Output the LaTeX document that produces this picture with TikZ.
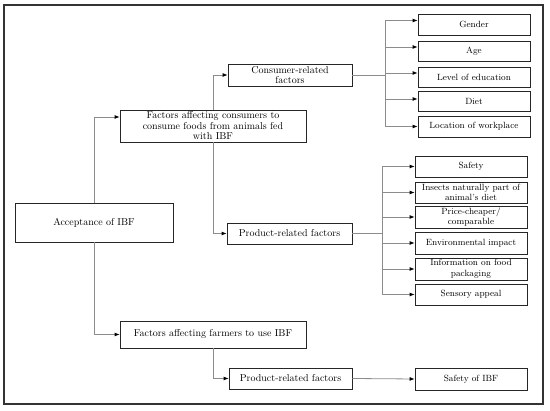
\documentclass[tikz,border=0pt]{standalone}
\usetikzlibrary{arrows.meta}
\begin{document}
\begin{tikzpicture}[x=1pt,y=-1pt,
  box/.style={draw=black!85, line width=0.8pt, inner sep=1pt, align=center,
    font=\fontsize{9}{10.5}\selectfont, fill=white},
  mainbox/.style={box, font=\fontsize{10}{10.5}\selectfont},
  conn/.style={draw=black!45, line width=0.8pt},
  arr/.style={conn, -{Latex[length=5pt,width=4pt,color=black]}}]
\useasboundingbox (0,0) rectangle (550,411);
\draw[black!80, line width=1.5pt] (4,5) rectangle (543,404);
% main nodes
\node[mainbox, minimum width=158pt, minimum height=39pt] (acc) at (94,222.5) {Acceptance of IBF};
\node[mainbox, minimum width=186pt, minimum height=32pt] (fc) at (213,126) {Factors affecting consumers to\\consume foods from animals fed\\with IBF};
\node[mainbox, minimum width=124pt, minimum height=22pt] (cr) at (290,75) {Consumer-related\\factors};
\node[mainbox, minimum width=125pt, minimum height=21pt] (pr1) at (289.5,233.5) {Product-related factors};
\node[mainbox, minimum width=186pt, minimum height=27pt] (ff) at (213,334.5) {Factors affecting farmers to use IBF};
\node[mainbox, minimum width=123pt, minimum height=21pt] (pr2) at (290.5,378.5) {Product-related factors};
% consumer children
\node[box, minimum width=112pt, minimum height=21pt] (gen) at (474,24.5) {Gender};
\node[box, minimum width=112pt, minimum height=20pt] (age) at (474,51) {Age};
\node[box, minimum width=112pt, minimum height=20pt] (edu) at (474,77) {Level of education};
\node[box, minimum width=112pt, minimum height=20pt] (diet) at (474,101) {Diet};
\node[box, minimum width=112pt, minimum height=21pt] (loc) at (474,126.5) {Location of workplace};
% product children
\node[box, minimum width=112pt, minimum height=21pt] (saf) at (471,166.5) {Safety};
\node[box, minimum width=112pt, minimum height=21pt] (ins) at (471,192.5) {Insects naturally part of\\animal's diet};
\node[box, minimum width=112pt, minimum height=22pt] (pri) at (471,217) {Price-cheaper/\\comparable};
\node[box, minimum width=112pt, minimum height=22pt] (env) at (471,243) {Environmental impact};
\node[box, minimum width=112pt, minimum height=22pt] (inf) at (471,269) {Information on food\\packaging};
\node[box, minimum width=112pt, minimum height=21pt] (sen) at (471,294.5) {Sensory appeal};
\node[box, minimum width=112pt, minimum height=22pt] (sib) at (471,379) {Safety of IBF};
% bus coordinates
\coordinate (cb) at (385,0);
\coordinate (pb) at (382,0);
% main connectors
\draw[arr] (acc.north) |- ([yshift=9pt]fc.west);
\draw[arr] (acc.south) |- (ff.west);
\draw[arr] (fc.north) |- (cr.west);
\draw[arr] (fc.south) |- (pr1.west);
\draw[arr] (ff.south) |- (pr2.west);
\draw[arr] (pr2.east) -- (sib.west);
% consumer bus
\draw[conn] (cr.east) -- (cr.east -| cb);
\draw[conn] ([yshift=4pt]cb |- gen.west) -- (cb |- loc.west);
\draw[arr] ([yshift=4pt]cb |- gen.west) -- ([yshift=4pt]gen.west);
\draw[arr] ([yshift=4pt]cb |- age.west) -- ([yshift=4pt]age.west);
\draw[arr] ([yshift=4pt]cb |- edu.west) -- ([yshift=4pt]edu.west);
\draw[arr] ([yshift=2pt]cb |- diet.west) -- ([yshift=2pt]diet.west);
\draw[arr] (cb |- loc.west) -- (loc.west);
% product bus
\draw[conn] (pr1.east) -- (pr1.east -| pb);
\draw[conn] (pb |- saf.west) -- (pb |- sen.west);
\foreach \n in {saf,ins,pri,env,inf,sen}
  \draw[arr] (pb |- \n.west) -- (\n.west);
\end{tikzpicture}
\end{document}
